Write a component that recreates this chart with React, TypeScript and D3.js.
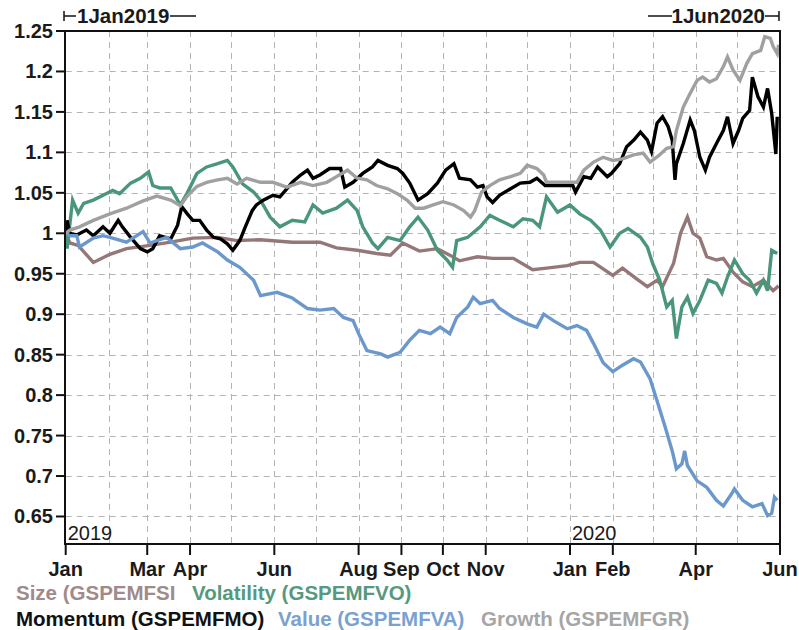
import React from "react";
import * as d3 from "d3";

// ---- data: [days since 1 Jan 2019, index level] ----
const sizeSeries: [number, number][] = [
  [0, 1.0], [3, 0.988], [9, 0.985], [20, 0.964], [32, 0.974], [44, 0.981], [61, 0.985], [76, 0.989],
  [92, 0.994], [110, 0.995], [124, 0.991], [141, 0.992], [164, 0.989], [184, 0.989], [196, 0.982],
  [211, 0.979], [225, 0.975], [235, 0.973], [244, 0.988], [256, 0.978], [269, 0.981], [278, 0.973],
  [285, 0.966], [298, 0.971], [309, 0.969], [324, 0.969], [338, 0.955], [348, 0.957], [363, 0.96],
  [372, 0.964], [382, 0.964], [396, 0.948], [403, 0.957], [413, 0.944], [421, 0.934], [428, 0.942],
  [432, 0.934], [440, 0.963], [445, 1.0], [450, 1.02], [454, 1.0], [459, 0.994], [464, 0.971],
  [471, 0.967], [476, 0.969], [483, 0.952], [490, 0.94], [497, 0.934], [505, 0.942], [512, 0.929], [516, 0.935],
];

const volatilitySeries: [number, number][] = [
  [0, 1.0], [1, 0.981], [5, 1.041], [9, 1.025], [13, 1.037], [20, 1.041], [27, 1.047], [34, 1.053],
  [39, 1.049], [47, 1.062], [54, 1.068], [60, 1.076], [63, 1.059], [68, 1.056], [76, 1.056], [81, 1.041],
  [83, 1.035], [88, 1.05], [95, 1.074], [102, 1.082], [110, 1.086], [117, 1.09], [121, 1.082], [128, 1.061],
  [136, 1.051], [141, 1.041], [148, 1.02], [155, 1.008], [164, 1.016], [173, 1.014], [179, 1.035],
  [186, 1.025], [196, 1.031], [204, 1.041], [211, 1.028], [215, 1.008], [222, 0.988], [226, 0.981],
  [233, 0.995], [242, 0.991], [249, 1.008], [255, 1.02], [262, 1.004], [269, 0.979], [276, 0.967],
  [280, 0.958], [283, 0.991], [291, 0.995], [300, 1.008], [307, 1.022], [314, 1.016], [324, 1.008],
  [331, 1.018], [338, 1.016], [343, 1.008], [348, 1.045], [356, 1.026], [365, 1.035], [372, 1.024],
  [380, 1.016], [387, 1.004], [394, 0.983], [401, 1.0], [407, 1.006], [416, 0.995], [421, 0.983],
  [425, 0.962], [430, 0.942], [435, 0.909], [439, 0.917], [442, 0.87], [446, 0.909], [450, 0.921],
  [454, 0.901], [459, 0.917], [465, 0.942], [471, 0.938], [475, 0.926], [479, 0.946], [484, 0.967],
  [490, 0.95], [495, 0.942], [500, 0.926], [505, 0.942], [508, 0.929], [511, 0.979], [515, 0.975],
];

const momentumSeries: [number, number][] = [
  [0, 1.0], [1, 1.016], [3, 1.0], [8, 0.998], [15, 1.004], [20, 0.997], [27, 1.008], [32, 1.0],
  [38, 1.016], [41, 1.008], [47, 0.995], [54, 0.981], [59, 0.977], [63, 0.981], [68, 0.997], [76, 0.993],
  [81, 1.01], [84, 1.033], [88, 1.024], [92, 1.016], [97, 1.016], [102, 1.004], [107, 0.995], [112, 0.993],
  [117, 0.987], [121, 0.979], [126, 0.991], [130, 1.008], [135, 1.028], [138, 1.035], [143, 1.041],
  [150, 1.047], [155, 1.045], [160, 1.055], [164, 1.063], [170, 1.072], [175, 1.078], [179, 1.068],
  [184, 1.072], [191, 1.08], [199, 1.08], [202, 1.057], [208, 1.063], [215, 1.074], [222, 1.082],
  [226, 1.09], [233, 1.084], [240, 1.08], [244, 1.074], [249, 1.062], [255, 1.041], [262, 1.049],
  [269, 1.062], [275, 1.078], [281, 1.086], [285, 1.068], [293, 1.066], [298, 1.057], [302, 1.059],
  [305, 1.045], [309, 1.038], [314, 1.047], [322, 1.055], [329, 1.062], [336, 1.063], [341, 1.068],
  [347, 1.059], [353, 1.059], [363, 1.059], [367, 1.059], [369, 1.051], [375, 1.07], [380, 1.068],
  [385, 1.082], [392, 1.07], [395, 1.074], [401, 1.086], [406, 1.107], [411, 1.115], [416, 1.125],
  [421, 1.115], [424, 1.101], [428, 1.136], [432, 1.144], [436, 1.132], [439, 1.115], [441, 1.066],
  [442, 1.086], [447, 1.111], [452, 1.14], [455, 1.127], [459, 1.094], [463, 1.078], [466, 1.094],
  [471, 1.111], [476, 1.127], [479, 1.144], [483, 1.111], [487, 1.127], [490, 1.142], [495, 1.152],
  [497, 1.193], [501, 1.169], [505, 1.156], [508, 1.179], [511, 1.148], [514, 1.098], [515, 1.144],
];

const valueSeries: [number, number][] = [
  [0, 1.0], [3, 0.997], [8, 0.997], [10, 0.983], [20, 0.994], [27, 0.997], [34, 0.994], [44, 0.989],
  [56, 1.002], [61, 0.988], [73, 0.995], [83, 0.981], [92, 0.983], [99, 0.988], [110, 0.977], [117, 0.967],
  [126, 0.958], [136, 0.942], [141, 0.923], [153, 0.927], [164, 0.92], [175, 0.907], [184, 0.905],
  [194, 0.907], [201, 0.896], [208, 0.892], [212, 0.876], [218, 0.855], [228, 0.851], [233, 0.847],
  [242, 0.853], [249, 0.868], [256, 0.88], [264, 0.876], [271, 0.884], [278, 0.876], [283, 0.896],
  [291, 0.909], [295, 0.921], [300, 0.913], [309, 0.917], [314, 0.907], [324, 0.896], [334, 0.888],
  [341, 0.884], [346, 0.9], [353, 0.892], [363, 0.882], [370, 0.886], [377, 0.88], [382, 0.864],
  [389, 0.84], [396, 0.829], [403, 0.837], [411, 0.845], [416, 0.841], [423, 0.82], [428, 0.793],
  [434, 0.76], [439, 0.731], [442, 0.709], [446, 0.715], [448, 0.731], [450, 0.713], [457, 0.694],
  [464, 0.686], [471, 0.67], [476, 0.663], [482, 0.678], [484, 0.684], [490, 0.67], [497, 0.662],
  [504, 0.666], [508, 0.651], [511, 0.654], [513, 0.674], [515, 0.67],
];

const growthSeries: [number, number][] = [
  [0, 1.0], [3, 1.004], [10, 1.008], [20, 1.016], [32, 1.024], [44, 1.031], [56, 1.04], [66, 1.046],
  [76, 1.041], [83, 1.034], [88, 1.046], [95, 1.058], [102, 1.063], [110, 1.066], [117, 1.068], [124, 1.061],
  [131, 1.068], [141, 1.063], [150, 1.063], [160, 1.057], [170, 1.063], [179, 1.059], [189, 1.063],
  [196, 1.07], [204, 1.078], [211, 1.068], [218, 1.066], [225, 1.059], [233, 1.055], [240, 1.049],
  [247, 1.041], [253, 1.031], [259, 1.031], [266, 1.035], [273, 1.039], [281, 1.035], [288, 1.028],
  [293, 1.02], [296, 1.028], [301, 1.051], [307, 1.059], [314, 1.066], [322, 1.07], [329, 1.074],
  [334, 1.084], [341, 1.08], [346, 1.072], [348, 1.063], [358, 1.063], [370, 1.063], [375, 1.078],
  [382, 1.088], [389, 1.094], [396, 1.09], [403, 1.092], [411, 1.097], [418, 1.099], [423, 1.088],
  [430, 1.097], [435, 1.105], [440, 1.107], [442, 1.127], [447, 1.156], [452, 1.173], [457, 1.189],
  [461, 1.193], [466, 1.187], [471, 1.191], [476, 1.206], [479, 1.218], [483, 1.202], [488, 1.189],
  [493, 1.21], [497, 1.222], [503, 1.226], [506, 1.243], [510, 1.241], [512, 1.231], [515, 1.222], [516, 1.233],
];

const seriesNames = ["Size (GSPEMFSI", "Volatility (GSPEMFVO)", "Momentum (GSPEMFMO)", "Value (GSPEMFVA)", "Growth (GSPEMFGR)"];
const seriesColors = ["#967777", "#4a967a", "#000000", "#6b98cc", "#a0a0a0"];
const legendColors = ["#a08a8a", "#55997f", "#111111", "#7aa1d2", "#a6a6a6"];

const yTickValues = [0.65, 0.7, 0.75, 0.8, 0.85, 0.9, 0.95, 1, 1.05, 1.1, 1.15, 1.2, 1.25];
const yTickLabels = ["0.65", "0.7", "0.75", "0.8", "0.85", "0.9", "0.95", "1", "1.05", "1.1", "1.15", "1.2", "1.25"];
const xTickDates = ["2019-01-01", "2019-03-01", "2019-04-01", "2019-06-01", "2019-08-01", "2019-09-01",
  "2019-10-01", "2019-11-01", "2020-01-01", "2020-02-01", "2020-04-01", "2020-06-01"];
const xTickLabels = ["Jan", "Mar", "Apr", "Jun", "Aug", "Sep", "Oct", "Nov", "Jan", "Feb", "Apr", "Jun"];
const yearLabels = ["2019", "2020"];
const yearDates = ["2019-01-01", "2020-01-01"];
const startLabel = "1Jan2019";
const endLabel = "1Jun2020";

const FONT = "'Liberation Sans', Arial, sans-serif";

const parse = (s: string) => {
  const [y, m, d] = s.split("-").map(Number);
  return new Date(y, m - 1, d);
};

export default function App() {
  const W = 799, H = 630;
  const left = 65.7, right = 780, top = 31, bottom = 544;
  const start = new Date(2019, 0, 1);
  const end = new Date(2020, 5, 1);
  const x = d3.scaleTime().domain([start, end]).range([left, right]);
  const y = d3.scaleLinear().domain([0.616, 1.25]).range([bottom, top]);
  const toDate = (d: number) => d3.timeDay.offset(start, d);
  const line = d3.line<[number, number]>()
    .x((p) => x(toDate(p[0])))
    .y((p) => y(p[1]));
  const allSeries = [sizeSeries, volatilitySeries, momentumSeries, valueSeries, growthSeries];
  const months = d3.timeMonth.range(d3.timeMonth.offset(start, 1), end);

  const legendPos: [number, number][] = [[16, 600], [192, 600], [16, 626], [278, 626], [481, 626]];

  return (
    <svg width={W} height={H} style={{ display: "block", position: "absolute", left: 0, top: 0 }}>
      <rect x={0} y={0} width={W} height={H} fill="#fff" />
      <defs>
        <clipPath id="plotclip">
          <rect x={left} y={top} width={right - left} height={bottom - top} />
        </clipPath>
      </defs>
      {/* grid */}
      <g stroke="#b4b4b4" strokeWidth={1} strokeDasharray="6,5">
        {months.map((m, i) => (
          <line key={"gx" + i} x1={Math.round(x(m)) + 0.5} x2={Math.round(x(m)) + 0.5} y1={top} y2={bottom} />
        ))}
        {yTickValues.slice(0, -1).map((v, i) => (
          <line key={"gy" + i} x1={left} x2={right} y1={Math.round(y(v)) + 0.5} y2={Math.round(y(v)) + 0.5} />
        ))}
      </g>
      {/* series */}
      <g clipPath="url(#plotclip)" fill="none" strokeWidth={3.4} strokeLinejoin="miter" strokeLinecap="butt">
        {allSeries.map((s, i) => (
          <path key={"s" + i} d={line(s) || ""} stroke={seriesColors[i]} />
        ))}
      </g>
      {/* frame */}
      <rect x={left - 0.7} y={top} width={right - left + 0.7} height={bottom - top} fill="none" stroke="#111" strokeWidth={2} />
      {/* ticks and labels */}
      <g fontFamily={FONT} fontWeight="bold" fontSize={20} fill="#1a1a1a">
        {yTickValues.map((v, i) => (
          <g key={"yt" + i}>
            <line x1={56} x2={left} y1={y(v)} y2={y(v)} stroke="#111" strokeWidth={2} />
            <text x={53} y={y(v)} dy="0.35em" textAnchor="end">{yTickLabels[i]}</text>
          </g>
        ))}
        {xTickDates.map((s, i) => {
          const px = x(parse(s));
          return (
            <g key={"xt" + i}>
              <line x1={px} x2={px} y1={bottom} y2={bottom + 11} stroke="#111" strokeWidth={2} />
              <text x={px} y={576} textAnchor="middle">{xTickLabels[i]}</text>
            </g>
          );
        })}
      </g>
      {/* year labels inside plot */}
      <g fontFamily={FONT} fontSize={20} fill="#1a1a1a">
        {yearLabels.map((t, i) => (
          <text key={"yr" + i} x={x(parse(yearDates[i])) + 2} y={540}>{t}</text>
        ))}
      </g>
      {/* header range markers */}
      <g stroke="#111" strokeWidth={1.5}>
        <line x1={64} x2={64} y1={11} y2={21} />
        <line x1={64} x2={76} y1={16} y2={16} />
        <line x1={170} x2={196} y1={16} y2={16} />
        <line x1={648} x2={672} y1={16} y2={16} />
        <line x1={765} x2={779} y1={16} y2={16} />
        <line x1={779} x2={779} y1={11} y2={21} />
      </g>
      <g fontFamily={FONT} fontWeight="bold" fontSize={20.5} fill="#1a1a1a">
        <text x={77} y={23}>{startLabel}</text>
        <text x={765} y={23} textAnchor="end">{endLabel}</text>
      </g>
      {/* legend */}
      <g fontFamily={FONT} fontWeight="bold" fontSize={20.5}>
        {seriesNames.map((n, i) => (
          <text key={"lg" + i} x={legendPos[i][0]} y={legendPos[i][1]} fill={legendColors[i]}>{n}</text>
        ))}
      </g>
    </svg>
  );
}
